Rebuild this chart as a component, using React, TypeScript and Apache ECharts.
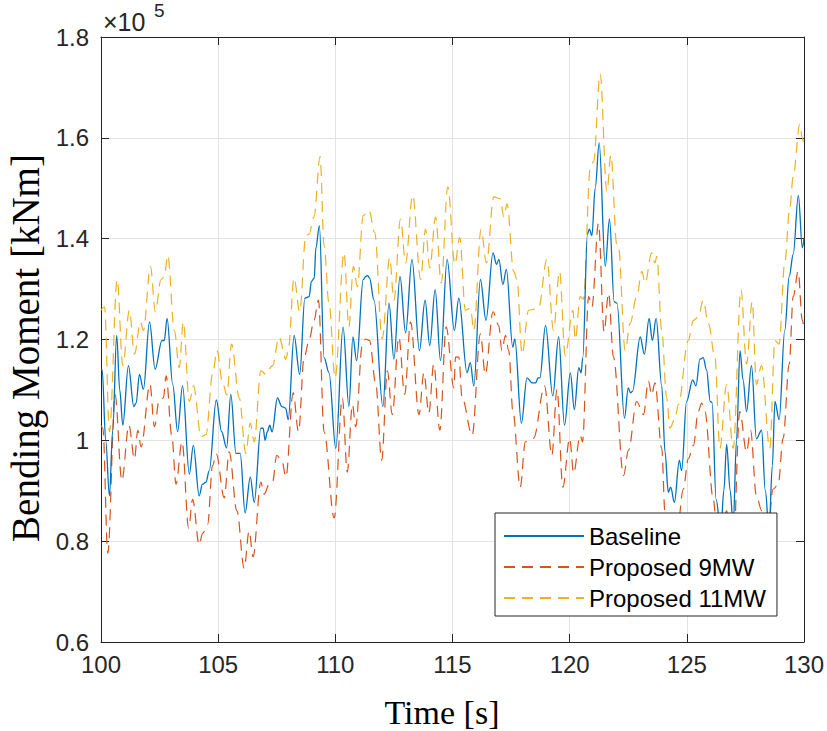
import React, { useEffect, useRef } from "react";
import * as echarts from "echarts";

// Time [s] and value [x1e5 kNm]
const baselineT = [100.0,100.05,100.2,100.36,100.5,100.67,100.8,100.93,101.17,101.4,101.5,101.64,101.81,102.07,102.31,102.6,102.7,102.82,103.06,103.27,103.48,103.77,103.94,104.19,104.33,104.48,104.62,104.92,105.15,105.36,105.54,105.76,105.94,106.15,106.37,106.54,106.82,106.92,107.0,107.1,107.2,107.3,107.53,107.72,107.88,107.99,108.24,108.48,108.7,108.88,108.98,109.1,109.17,109.32,109.52,109.73,110.02,110.33,110.58,110.75,110.91,111.19,111.3,111.38,111.46,111.65,112.03,112.29,112.5,112.76,113.0,113.27,113.59,113.83,114.03,114.26,114.49,114.77,115.08,115.27,115.62,115.76,115.91,116.19,116.43,116.73,116.88,116.98,117.15,117.3,117.57,117.66,117.94,118.18,118.4,118.55,118.65,118.73,118.97,119.28,119.53,119.78,120.03,120.2,120.39,120.49,120.56,120.76,120.84,120.95,121.09,121.26,121.52,121.7,121.9,122.02,122.34,122.5,122.6,122.68,123.01,123.19,123.39,123.53,123.69,123.93,124.07,124.21,124.31,124.47,124.68,124.78,124.99,125.25,125.39,125.56,125.7,125.84,126.0,126.08,126.25,126.45,126.58,126.7,126.85,126.98,127.12,127.27,127.4,127.55,127.76,127.97,128.19,128.35,128.51,128.65,128.76,128.94,129.18,129.37,129.54,129.76,129.93,130.0];
const baselineV = [1.14,1.14,1.0,0.89,1.02,1.208,1.1,1.03,1.148,1.067,1.074,1.131,1.101,1.235,1.141,1.198,1.198,1.242,1.111,1.017,1.108,0.933,0.99,0.89,0.913,0.917,0.94,1.08,1.017,0.985,1.091,0.974,0.974,0.856,0.927,0.877,1.024,1.024,1.0,1.017,1.03,1.017,1.084,1.067,1.064,1.041,1.208,1.131,1.282,1.285,1.315,1.322,1.382,1.426,1.164,1.134,0.984,1.225,1.067,1.205,1.158,1.319,1.325,1.327,1.322,1.278,1.067,1.272,1.161,1.325,1.213,1.359,1.178,1.278,1.188,1.299,1.158,1.359,1.218,1.282,1.134,1.154,1.108,1.319,1.238,1.372,1.349,1.359,1.309,1.339,1.185,1.201,1.034,1.124,1.114,1.114,1.124,1.124,1.228,1.088,1.205,1.03,1.134,1.061,1.144,1.134,1.164,1.409,1.419,1.406,1.5,1.59,1.345,1.439,1.275,1.272,1.044,1.104,1.094,1.097,1.205,1.171,1.242,1.198,1.242,1.108,0.977,0.897,0.907,0.877,0.96,0.94,1.077,1.12,1.108,1.161,1.164,1.14,1.077,1.075,0.883,0.82,0.9,0.992,0.9,0.83,1.0,1.178,1.12,1.057,1.148,1.003,1.02,0.9,0.82,0.95,1.077,1.041,1.218,1.325,1.369,1.486,1.382,1.4];

const p9T = [100.0,100.08,100.29,100.6,100.89,101.19,101.43,101.57,101.71,102.09,102.28,102.49,102.66,102.78,103.02,103.2,103.46,103.74,103.91,104.19,104.34,104.55,104.76,104.92,105.26,105.47,105.8,106.11,106.32,106.49,106.82,106.96,107.18,107.32,107.5,107.72,107.89,108.2,108.43,108.67,108.88,109.09,109.28,109.52,109.95,110.3,110.51,110.73,110.87,111.15,111.29,111.46,111.72,111.98,112.22,112.43,112.71,112.96,113.21,113.57,113.78,113.99,114.2,114.46,114.73,115.06,115.13,115.27,115.41,115.84,116.19,116.4,116.73,116.97,117.11,117.26,117.4,117.58,117.89,118.11,118.46,118.93,119.24,119.46,119.71,120.0,120.17,120.45,120.55,120.81,120.95,121.23,121.47,121.66,121.87,122.3,122.51,122.86,123.15,123.36,123.5,123.64,123.93,124.07,124.3,124.55,124.85,125.06,125.28,125.49,125.63,125.77,126.13,126.35,126.7,126.95,127.26,127.55,127.72,127.97,128.2,128.4,128.68,128.9,129.11,129.37,129.54,129.75,129.93,130.0];
const p9V = [1.03,1.024,0.776,1.091,0.92,1.03,0.963,1.02,0.987,1.111,1.027,1.081,1.084,1.128,1.01,0.913,0.997,0.826,0.883,0.793,0.816,0.833,0.95,0.973,0.886,0.977,0.86,0.746,0.82,0.769,0.917,0.893,0.913,0.917,0.97,0.96,0.927,1.094,1.017,1.165,1.198,1.238,1.278,1.017,0.846,1.084,0.937,1.071,1.027,1.188,1.201,1.198,1.114,0.96,1.138,1.051,1.205,1.091,1.235,1.051,1.134,1.054,1.151,1.02,1.225,1.104,1.165,1.165,1.084,1.01,1.211,1.131,1.255,1.228,1.178,1.208,1.178,1.057,0.907,0.997,1.004,1.108,0.97,1.101,0.907,1.004,0.935,1.01,0.997,1.285,1.265,1.43,1.215,1.292,1.165,0.93,0.98,1.077,1.051,1.118,1.09,1.114,0.984,0.856,0.78,0.8,0.903,0.963,0.99,1.057,1.074,1.057,0.883,0.76,0.86,0.74,1.057,0.977,1.02,0.89,0.86,0.78,0.903,0.913,1.004,1.151,1.285,1.335,1.238,1.22];

const p11T = [100.0,100.15,100.36,100.69,100.93,101.21,101.43,101.68,101.81,102.11,102.32,102.56,102.7,102.85,103.13,103.34,103.51,103.77,103.95,104.27,104.48,104.76,104.95,105.19,105.37,105.57,105.9,106.18,106.37,106.54,106.82,107.03,107.32,107.6,107.89,107.99,108.24,108.48,108.74,108.88,109.09,109.35,109.52,109.73,109.99,110.37,110.58,110.77,110.94,111.19,111.44,111.68,112.0,112.32,112.5,112.78,113.0,113.3,113.64,113.85,114.03,114.28,114.52,114.8,115.1,115.31,115.55,115.77,115.91,116.22,116.45,116.76,117.04,117.19,117.33,117.61,117.75,117.97,118.25,118.67,119.03,119.31,119.57,119.81,120.14,120.24,120.45,120.59,120.88,121.02,121.3,121.59,121.76,122.01,122.08,122.37,122.58,122.86,123.08,123.22,123.5,123.64,123.72,123.93,124.14,124.28,124.5,124.64,125.06,125.28,125.49,125.7,125.92,126.2,126.41,126.7,126.98,127.31,127.55,127.79,127.97,128.19,128.54,128.76,128.94,129.18,129.39,129.54,129.82,129.93,130.0];
const p11V = [1.258,1.265,1.017,1.319,1.148,1.258,1.171,1.235,1.218,1.345,1.255,1.319,1.325,1.367,1.218,1.144,1.235,1.077,1.108,1.007,1.011,1.131,1.178,1.114,1.09,1.191,1.084,0.974,1.034,0.997,1.138,1.131,1.148,1.205,1.161,1.178,1.322,1.255,1.406,1.409,1.443,1.563,1.386,1.272,1.124,1.372,1.225,1.345,1.305,1.446,1.456,1.412,1.201,1.362,1.278,1.439,1.352,1.486,1.319,1.419,1.342,1.443,1.312,1.503,1.349,1.402,1.258,1.262,1.218,1.419,1.352,1.483,1.479,1.443,1.469,1.335,1.319,1.171,1.258,1.262,1.359,1.218,1.335,1.168,1.258,1.2,1.285,1.28,1.54,1.553,1.727,1.493,1.566,1.389,1.385,1.178,1.232,1.285,1.335,1.312,1.372,1.352,1.365,1.218,1.084,1.024,1.044,1.071,1.198,1.238,1.245,1.278,1.232,1.165,0.984,1.111,0.984,1.299,1.151,1.275,1.111,1.148,0.984,1.198,1.191,1.352,1.459,1.523,1.627,1.6,1.58];

const xTicks = { min: 100, max: 130, interval: 5 };
const yTicks = { min: 0.6, max: 1.8, interval: 0.2 };
const seriesNames = ["Baseline", "Proposed 9MW", "Proposed 11MW"];
const xTitle = "Time [s]";
const yTitle = "Bending Moment [kNm]";

const zip = (t: number[], v: number[]) => t.map((x, i) => [x, v[i]]);

export default function App() {
  const ref = useRef<HTMLDivElement>(null);
  useEffect(() => {
    document.body.style.margin = "0";
    const chart = echarts.init(ref.current!, null, { renderer: "svg" });
    const axisColor = "#262626";
    const tickFont = { fontFamily: "Liberation Sans", fontSize: 24, color: axisColor };
    const boxAxis = {
      axisLine: { show: true, onZero: false, lineStyle: { color: axisColor, width: 1 } },
      axisTick: { show: true, inside: true, length: 8, lineStyle: { color: axisColor } },
    };
    const dash = [11, 7];
    chart.setOption({
      animation: false,
      backgroundColor: "#fff",
      grid: { left: 101, right: 21, top: 37, bottom: 89, containLabel: false },
      xAxis: [
        {
          type: "value", ...xTicks, position: "bottom",
          ...boxAxis,
          axisLabel: { ...tickFont, margin: 10 },
          splitLine: { show: true, lineStyle: { color: "#e3e3e3", width: 1 } },
        },
        {
          type: "value", ...xTicks, position: "top",
          ...boxAxis, axisLabel: { show: false }, splitLine: { show: false },
        },
      ],
      yAxis: [
        {
          type: "value", ...yTicks, position: "left",
          ...boxAxis,
          axisLabel: {
            ...tickFont, margin: 12,
            formatter: (v: number) => String(Number(v.toFixed(1))),
          },
          splitLine: { show: true, lineStyle: { color: "#e3e3e3", width: 1 } },
        },
        {
          type: "value", ...yTicks, position: "right",
          ...boxAxis, axisLabel: { show: false }, splitLine: { show: false },
        },
      ],
      legend: {
        orient: "vertical", left: 495, top: 513,
        padding: [11, 11, 6, 8],
        itemWidth: 80, itemHeight: 14, itemGap: 7,
        backgroundColor: "#fff", borderColor: axisColor, borderWidth: 1, borderRadius: 0,
        itemStyle: { opacity: 0 },
        textStyle: { fontFamily: "Liberation Sans", fontSize: 24, color: "#000", lineHeight: 24 },
        data: seriesNames,
      },
      graphic: [
        { type: "text", left: 103, top: 9, style: { text: "×10", font: "25px 'Liberation Sans'", fill: axisColor } },
        { type: "text", left: 154, top: 1, style: { text: "5", font: "19px 'Liberation Sans'", fill: axisColor } },
        {
          type: "text", x: 442, y: 712,
          style: { text: xTitle, font: "34px 'Liberation Serif'", fill: "#000", align: "center", verticalAlign: "middle" },
        },
        {
          type: "text", x: 25, y: 348, rotation: Math.PI / 2,
          style: { text: yTitle, font: "39px 'Liberation Serif'", fill: "#000", align: "center", verticalAlign: "middle" },
        },
      ],
      series: [
        {
          name: seriesNames[0], type: "line", data: zip(baselineT, baselineV),
          showSymbol: false, symbol: "none", smooth: 0.35, smoothMonotone: "x",
          lineStyle: { color: "#0072BD", width: 1.3 }, itemStyle: { color: "#0072BD" }, z: 3,
        },
        {
          name: seriesNames[1], type: "line", data: zip(p9T, p9V),
          showSymbol: false, symbol: "none", smooth: 0.35, smoothMonotone: "x",
          lineStyle: { color: "#D95319", width: 1.2, type: dash }, itemStyle: { color: "#D95319" }, z: 2,
        },
        {
          name: seriesNames[2], type: "line", data: zip(p11T, p11V),
          showSymbol: false, symbol: "none", smooth: 0.35, smoothMonotone: "x",
          lineStyle: { color: "#EDB120", width: 1.2, type: dash }, itemStyle: { color: "#EDB120" }, z: 1,
        },
      ],
    });
    return () => chart.dispose();
  }, []);
  return <div ref={ref} style={{ width: 827, height: 731 }} />;
}
